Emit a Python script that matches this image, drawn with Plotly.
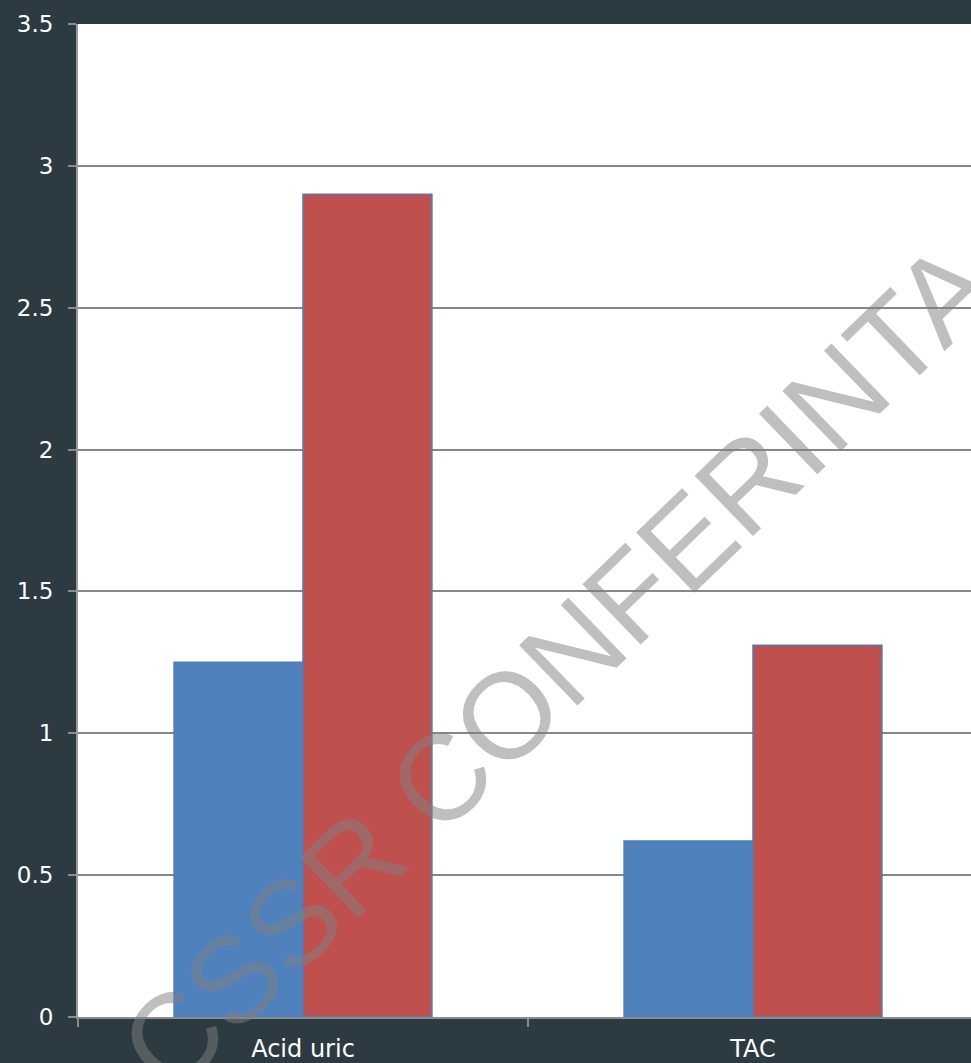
import plotly.graph_objects as go

categories = ["Acid uric", "TAC"]
series_blue = [1.25, 0.62]
series_red = [2.90, 1.31]
y_ticks = [0, 0.5, 1, 1.5, 2, 2.5, 3, 3.5]
y_tick_labels = ["0", "0.5", "1", "1.5", "2", "2.5", "3", "3.5"]
watermark = "CSSR CONFERINTA"

W, H = 971, 1063
ML, MT, MB = 78, 24, 46
cat_px = 450.0
plot_w = W - ML

fig = go.Figure()
fig.add_trace(go.Bar(x=categories, y=series_blue, marker=dict(color="#4f81bd", line=dict(color="#4a7ebb", width=1.5))))
fig.add_trace(go.Bar(x=categories, y=series_red, marker=dict(color="#c0504d", line=dict(color="#4a7ebb", width=1.5))))

fig.update_layout(
    width=W, height=H,
    margin=dict(l=ML, r=0, t=MT, b=MB, pad=0),
    paper_bgcolor="#2c3a42",
    plot_bgcolor="#ffffff",
    showlegend=False,
    barmode="group",
    bargap=0.427,
    bargroupgap=0,
    font=dict(family="DejaVu Sans", size=22, color="#ffffff"),
    xaxis=dict(
        type="category",
        range=[-0.5, -0.5 + plot_w / cat_px],
        showgrid=False,
        showline=True, linecolor="#8c8c8c", linewidth=2,
        ticks="outside", tickson="boundaries", ticklen=8, tickcolor="#8c8c8c", tickwidth=2,
        tickfont=dict(family="DejaVu Sans", size=24, color="#ffffff"),
        ticklabelstandoff=9,
        zeroline=False,
    ),
    yaxis=dict(
        range=[0, 3.5],
        tickvals=y_ticks, ticktext=y_tick_labels,
        showgrid=True, gridcolor="#878787", gridwidth=2,
        showline=True, linecolor="#9a9a9a", linewidth=2,
        ticks="outside", ticklen=8, tickcolor="#8c8c8c", tickwidth=2,
        tickfont=dict(family="DejaVu Sans", size=23, color="#ffffff"),
        ticklabelstandoff=10,
        zeroline=False,
    ),
    annotations=[dict(
        text=watermark, xref="paper", yref="paper",
        x=(557 - ML) / plot_w, y=(H - MB - 667) / (H - MT - MB),
        xanchor="center", yanchor="middle", showarrow=False, textangle=-44,
        font=dict(family="Liberation Sans", size=122, color="rgba(128,128,128,0.5)"),
    )],
)

fig.write_html("out.html")
